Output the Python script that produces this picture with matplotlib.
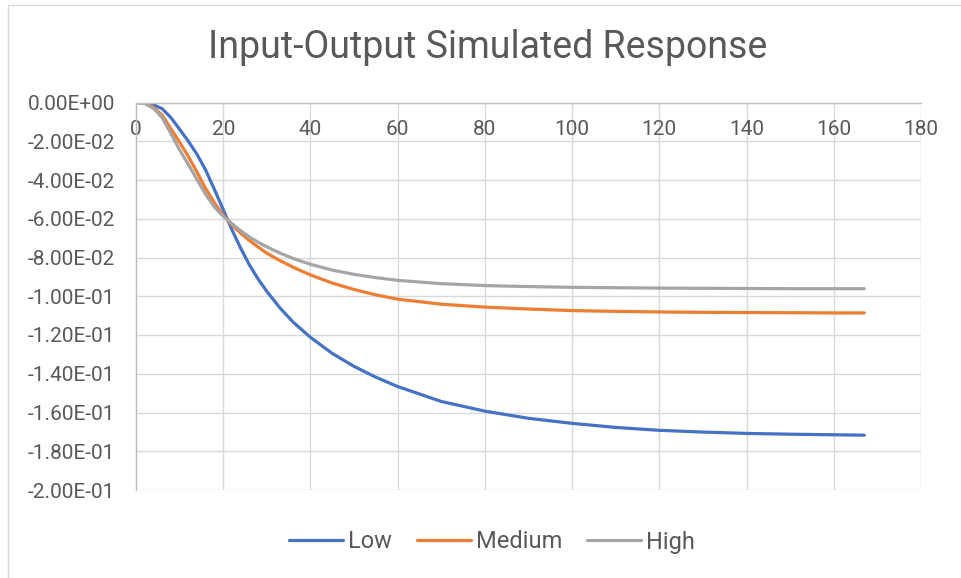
import numpy as np
import matplotlib
matplotlib.use('Agg')
import matplotlib.pyplot as plt
from matplotlib.ticker import FuncFormatter, MultipleLocator
from matplotlib.lines import Line2D

plt.rcParams['font.family'] = ['Roboto', 'DejaVu Sans']

# time points and simulated responses
t = [0, 2, 4, 6, 8, 10, 12, 14, 16, 18, 20, 22, 24, 26, 28, 30, 33, 36, 40,
     45, 50, 55, 60, 70, 80, 90, 100, 110, 120, 130, 140, 150, 160, 167]

low = [0.0, 0.0, -0.0012, -0.0032, -0.0078, -0.0138, -0.0200, -0.0268,
       -0.0350, -0.0450, -0.0553, -0.0657, -0.0752, -0.0838, -0.0911,
       -0.0975, -0.1060, -0.1133, -0.1212, -0.1295, -0.1362, -0.1418,
       -0.1466, -0.1543, -0.1593, -0.1630, -0.1656, -0.1677, -0.1692,
       -0.1701, -0.1708, -0.1712, -0.1715, -0.1717]

medium = [0.0, -0.0003, -0.0025, -0.0065, -0.0135, -0.0205, -0.0278, -0.0360,
          -0.0445, -0.0518, -0.0582, -0.0632, -0.0675, -0.0712, -0.0746,
          -0.0778, -0.0816, -0.0850, -0.0890, -0.0932, -0.0965, -0.0993,
          -0.1015, -0.1041, -0.1056, -0.1066, -0.1074, -0.1078, -0.1081,
          -0.1083, -0.1084, -0.1085, -0.1086, -0.1086]

high = [0.0, -0.0005, -0.0030, -0.0078, -0.0160, -0.0245, -0.0320, -0.0398,
        -0.0475, -0.0540, -0.0587, -0.0625, -0.0662, -0.0694, -0.0721,
        -0.0745, -0.0777, -0.0805, -0.0835, -0.0865, -0.0887, -0.0904,
        -0.0918, -0.0935, -0.0945, -0.0950, -0.0954, -0.0956, -0.0958,
        -0.0959, -0.0960, -0.0961, -0.0961, -0.0961]

series = [('Low', low, '#4472C4'), ('Medium', medium, '#ED7D31'), ('High', high, '#A5A5A5')]

W, H = 961, 578
fig = plt.figure(figsize=(W / 100, H / 100), dpi=100)
ax = fig.add_axes([136 / W, 1 - 490 / H, 785 / W, 387.5 / H])

for name, vals, col in series:
    ax.plot(t, vals, color=col, lw=2.3, label=name, solid_capstyle='round',
            solid_joinstyle='round')

ax.set_xlim(0, 180)
ax.set_ylim(-0.2, 0)
ax.xaxis.set_major_locator(MultipleLocator(20))
ax.yaxis.set_major_locator(MultipleLocator(0.02))
ax.yaxis.set_major_formatter(FuncFormatter(lambda v, p: '{:.2E}'.format(0.0 if abs(v) < 1e-12 else v)))

ax.grid(True, color='#D9D9D9', lw=1.0)
ax.set_axisbelow(True)
for s in ['right', 'bottom']:
    ax.spines[s].set_visible(False)
for s in ['top', 'left']:
    ax.spines[s].set_color('#BFBFBF')
    ax.spines[s].set_linewidth(1.0)

# x axis sits at y = 0, labels hang just under it
ax.xaxis.set_ticks_position('top')
ax.tick_params(axis='x', length=0, pad=-26, labelsize=15, labelcolor='#595959')
ax.tick_params(axis='y', length=0, pad=15, labelsize=15, labelcolor='#595959')

fig.text(488 / W, 1 - 48 / H, 'Input-Output Simulated Response', ha='center', va='center',
         fontsize=27, color='#595959')

leg = ax.legend(loc='center', bbox_to_anchor=(492 / W, 1 - 542 / H), bbox_transform=fig.transFigure,
                ncol=3, frameon=False, fontsize=17, handlelength=2.3, handletextpad=0.2,
                columnspacing=1.05)
for txt in leg.get_texts():
    txt.set_color('#595959')

# chart area border (only left and top visible in the crop)
fig.add_artist(Line2D([8 / W, 8 / W, 1], [0, 1 - 5 / H, 1 - 5 / H], color='#D9D9D9', lw=1.0,
                      transform=fig.transFigure))

fig.savefig('out.png', dpi=100)
